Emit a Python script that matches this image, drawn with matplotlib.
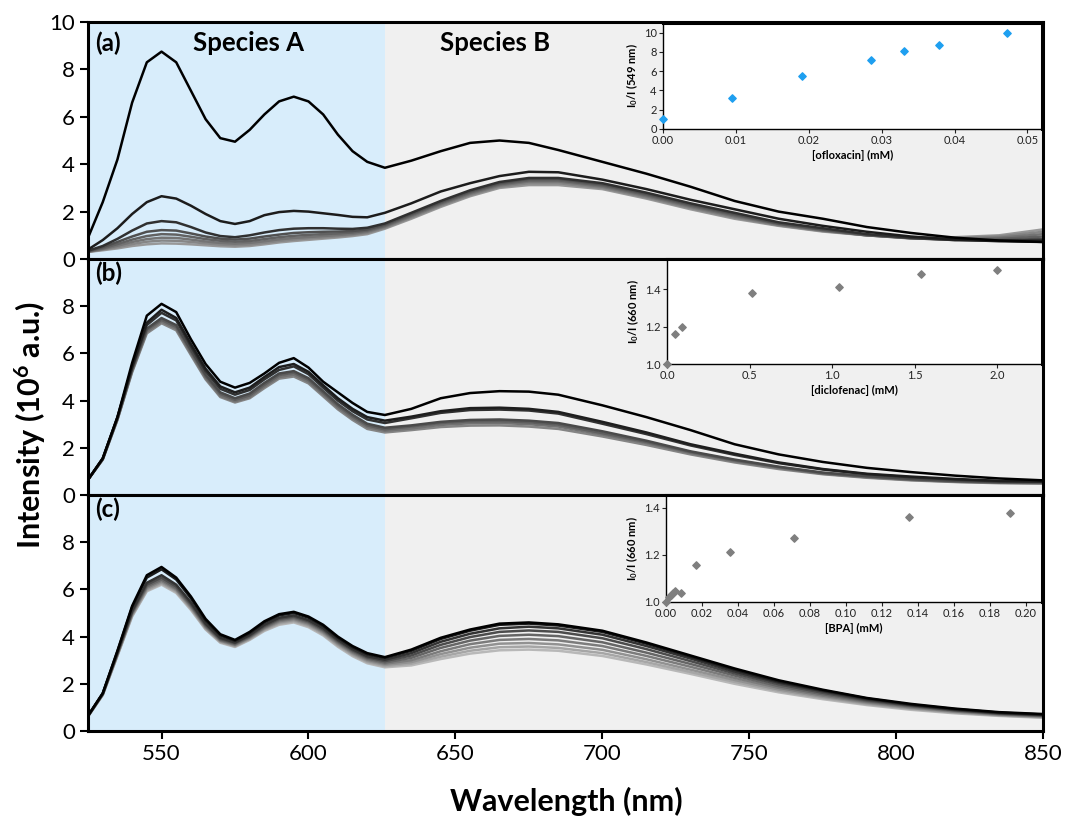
# Quenching spectra, three panels with Stern-Volmer insets
import numpy as np
import matplotlib.pyplot as plt

plt.rcParams['font.family'] = ['Lato', 'DejaVu Sans']
plt.rcParams['mathtext.default'] = 'regular'

# wavelength grid (nm) that the curves were read at
wl = [525, 530, 535, 540, 545, 550, 555, 560, 565, 570, 575, 580, 585, 590, 595,
      600, 605, 610, 615, 620, 626, 635, 645, 655, 665, 675, 685, 700, 715, 730,
      745, 760, 775, 790, 805, 820, 835, 850]

# panel (a): ofloxacin titration, intensity in 10^6 a.u.
a1 = [0.9, 2.4, 4.2, 6.6, 8.3, 8.75, 8.3, 7.1, 5.9, 5.1, 4.95, 5.45, 6.1, 6.65, 6.85,
      6.65, 6.1, 5.25, 4.55, 4.1, 3.85, 4.15, 4.55, 4.9, 5.0, 4.9, 4.6, 4.1, 3.6, 3.05,
      2.45, 2.0, 1.7, 1.35, 1.1, 0.9, 0.78, 0.72]
a2 = [0.4, 0.8, 1.3, 1.9, 2.4, 2.65, 2.55, 2.25, 1.9, 1.6, 1.48, 1.6, 1.85, 1.98, 2.03,
      2.0, 1.93, 1.86, 1.78, 1.76, 1.95, 2.35, 2.85, 3.2, 3.5, 3.68, 3.66, 3.35, 2.95, 2.5,
      2.1, 1.7, 1.4, 1.15, 0.95, 0.82, 0.75, 0.72]
a3 = [0.35, 0.55, 0.85, 1.2, 1.5, 1.6, 1.55, 1.35, 1.12, 0.97, 0.92, 1.0, 1.12, 1.22, 1.28,
      1.3, 1.3, 1.28, 1.27, 1.32, 1.5, 1.95, 2.45, 2.9, 3.25, 3.42, 3.42, 3.2, 2.8, 2.35,
      1.95, 1.55, 1.3, 1.05, 0.9, 0.8, 0.78, 0.8]
a4 = [0.33, 0.5, 0.72, 0.95, 1.15, 1.22, 1.2, 1.08, 0.95, 0.86, 0.82, 0.86, 0.95, 1.03, 1.1,
      1.13, 1.15, 1.16, 1.18, 1.25, 1.45, 1.9, 2.4, 2.85, 3.2, 3.38, 3.38, 3.15, 2.75, 2.3,
      1.9, 1.5, 1.25, 1.02, 0.88, 0.8, 0.8, 0.85]
a5 = [0.32, 0.45, 0.63, 0.82, 0.97, 1.05, 1.03, 0.94, 0.84, 0.77, 0.73, 0.76, 0.84, 0.92, 0.98,
      1.02, 1.05, 1.08, 1.12, 1.2, 1.4, 1.85, 2.35, 2.8, 3.15, 3.32, 3.32, 3.1, 2.7, 2.25,
      1.85, 1.48, 1.22, 1.0, 0.87, 0.82, 0.85, 0.95]
a6 = [0.31, 0.42, 0.56, 0.72, 0.84, 0.9, 0.89, 0.82, 0.74, 0.68, 0.65, 0.68, 0.75, 0.83, 0.89,
      0.93, 0.97, 1.01, 1.06, 1.15, 1.36, 1.8, 2.3, 2.75, 3.1, 3.27, 3.27, 3.05, 2.65, 2.2,
      1.8, 1.45, 1.2, 1.0, 0.88, 0.85, 0.9, 1.05]
a7 = [0.3, 0.4, 0.5, 0.63, 0.73, 0.78, 0.77, 0.72, 0.66, 0.61, 0.58, 0.61, 0.68, 0.76, 0.82,
      0.87, 0.91, 0.96, 1.02, 1.1, 1.32, 1.75, 2.25, 2.7, 3.05, 3.2, 3.2, 3.0, 2.6, 2.15,
      1.75, 1.42, 1.18, 1.0, 0.9, 0.88, 0.95, 1.15]
a8 = [0.3, 0.37, 0.45, 0.55, 0.62, 0.66, 0.65, 0.62, 0.58, 0.54, 0.52, 0.55, 0.62, 0.7, 0.76,
      0.81, 0.86, 0.91, 0.97, 1.05, 1.28, 1.7, 2.2, 2.65, 3.0, 3.12, 3.12, 2.95, 2.55, 2.1,
      1.7, 1.4, 1.16, 1.0, 0.92, 0.92, 1.0, 1.25]

# panel (b): diclofenac titration
b1 = [0.65, 1.55, 3.3, 5.6, 7.6, 8.1, 7.75, 6.6, 5.55, 4.8, 4.55, 4.75, 5.15, 5.6, 5.8,
      5.4, 4.8, 4.35, 3.9, 3.52, 3.39, 3.65, 4.1, 4.32, 4.4, 4.38, 4.25, 3.8, 3.3, 2.75,
      2.15, 1.72, 1.4, 1.15, 0.97, 0.82, 0.7, 0.62]
b2 = [0.65, 1.55, 3.3, 5.45, 7.3, 7.85, 7.5, 6.4, 5.35, 4.6, 4.35, 4.55, 5.0, 5.42, 5.55,
      5.22, 4.65, 4.1, 3.65, 3.3, 3.15, 3.32, 3.55, 3.68, 3.7, 3.65, 3.52, 3.1, 2.65, 2.15,
      1.75, 1.38, 1.1, 0.9, 0.78, 0.68, 0.6, 0.58]
b3 = [0.65, 1.55, 3.28, 5.4, 7.2, 7.72, 7.4, 6.3, 5.25, 4.5, 4.25, 4.45, 4.9, 5.3, 5.45,
      5.12, 4.55, 4.0, 3.55, 3.2, 3.05, 3.25, 3.48, 3.6, 3.62, 3.58, 3.45, 3.02, 2.58, 2.1,
      1.7, 1.35, 1.08, 0.88, 0.75, 0.65, 0.58, 0.56]
b4 = [0.65, 1.52, 3.25, 5.35, 7.05, 7.5, 7.2, 6.15, 5.1, 4.35, 4.1, 4.3, 4.75, 5.15, 5.25,
      4.95, 4.4, 3.85, 3.4, 3.02, 2.85, 2.95, 3.1, 3.18, 3.2, 3.15, 3.05, 2.7, 2.3, 1.85,
      1.5, 1.2, 0.95, 0.8, 0.68, 0.6, 0.55, 0.54]
b5 = [0.65, 1.52, 3.22, 5.3, 7.0, 7.42, 7.12, 6.08, 5.03, 4.28, 4.03, 4.22, 4.67, 5.08, 5.18,
      4.88, 4.33, 3.78, 3.33, 2.95, 2.78, 2.9, 3.05, 3.12, 3.13, 3.08, 2.98, 2.62, 2.25, 1.82,
      1.47, 1.18, 0.93, 0.78, 0.66, 0.58, 0.53, 0.52]
b6 = [0.65, 1.5, 3.2, 5.25, 6.92, 7.35, 7.05, 6.0, 4.96, 4.2, 3.97, 4.15, 4.6, 5.0, 5.1,
      4.8, 4.25, 3.7, 3.25, 2.88, 2.72, 2.82, 2.97, 3.04, 3.05, 3.0, 2.9, 2.56, 2.2, 1.78,
      1.43, 1.15, 0.9, 0.75, 0.64, 0.56, 0.52, 0.5]
b7 = [0.65, 1.5, 3.18, 5.2, 6.85, 7.28, 6.98, 5.93, 4.9, 4.15, 3.92, 4.1, 4.53, 4.93, 5.02,
      4.73, 4.18, 3.63, 3.18, 2.8, 2.65, 2.75, 2.88, 2.94, 2.95, 2.9, 2.8, 2.48, 2.12, 1.72,
      1.38, 1.1, 0.88, 0.73, 0.62, 0.55, 0.5, 0.48]

# panel (c): BPA titration
c1 = [0.65, 1.6, 3.4, 5.3, 6.6, 6.95, 6.5, 5.7, 4.75, 4.1, 3.86, 4.2, 4.65, 4.95, 5.05,
      4.85, 4.5, 4.0, 3.6, 3.3, 3.13, 3.45, 3.95, 4.3, 4.55, 4.6, 4.52, 4.25, 3.75, 3.2,
      2.65, 2.15, 1.75, 1.4, 1.15, 0.95, 0.8, 0.72]
c2 = [0.65, 1.6, 3.38, 5.25, 6.5, 6.85, 6.42, 5.62, 4.68, 4.05, 3.82, 4.15, 4.6, 4.9, 5.0,
      4.8, 4.45, 3.95, 3.55, 3.25, 3.1, 3.4, 3.9, 4.25, 4.5, 4.55, 4.47, 4.2, 3.7, 3.15,
      2.6, 2.1, 1.72, 1.38, 1.12, 0.93, 0.78, 0.7]
c3 = [0.64, 1.58, 3.32, 5.1, 6.28, 6.6, 6.2, 5.45, 4.55, 3.95, 3.75, 4.07, 4.5, 4.8, 4.9,
      4.7, 4.36, 3.87, 3.47, 3.17, 3.02, 3.3, 3.78, 4.12, 4.35, 4.42, 4.35, 4.08, 3.6, 3.07,
      2.52, 2.05, 1.68, 1.34, 1.1, 0.9, 0.76, 0.68]
c4 = [0.64, 1.57, 3.3, 5.05, 6.2, 6.5, 6.12, 5.38, 4.5, 3.9, 3.72, 4.03, 4.45, 4.75, 4.85,
      4.65, 4.3, 3.82, 3.42, 3.12, 2.96, 3.2, 3.65, 3.98, 4.2, 4.26, 4.2, 3.93, 3.47, 2.96,
      2.44, 1.98, 1.62, 1.3, 1.07, 0.88, 0.74, 0.66]
c5 = [0.63, 1.56, 3.28, 5.0, 6.13, 6.42, 6.05, 5.32, 4.45, 3.86, 3.68, 3.99, 4.4, 4.7, 4.8,
      4.6, 4.25, 3.77, 3.37, 3.07, 2.9, 3.1, 3.52, 3.83, 4.03, 4.08, 4.02, 3.76, 3.32, 2.84,
      2.35, 1.9, 1.56, 1.26, 1.04, 0.86, 0.72, 0.64]
c6 = [0.63, 1.55, 3.25, 4.96, 6.07, 6.36, 6.0, 5.27, 4.41, 3.83, 3.65, 3.96, 4.36, 4.65, 4.75,
      4.55, 4.2, 3.72, 3.32, 3.02, 2.85, 3.0, 3.38, 3.68, 3.86, 3.9, 3.84, 3.6, 3.18, 2.72,
      2.25, 1.83, 1.5, 1.22, 1.0, 0.83, 0.7, 0.62]
c7 = [0.62, 1.54, 3.22, 4.92, 6.01, 6.3, 5.95, 5.22, 4.37, 3.8, 3.62, 3.92, 4.32, 4.6, 4.7,
      4.5, 4.15, 3.67, 3.27, 2.97, 2.8, 2.92, 3.26, 3.53, 3.7, 3.73, 3.67, 3.44, 3.04, 2.6,
      2.16, 1.76, 1.45, 1.18, 0.97, 0.81, 0.68, 0.6]
c8 = [0.62, 1.53, 3.2, 4.88, 5.96, 6.25, 5.9, 5.18, 4.33, 3.77, 3.59, 3.89, 4.28, 4.55, 4.65,
      4.45, 4.1, 3.62, 3.22, 2.92, 2.75, 2.85, 3.15, 3.4, 3.55, 3.58, 3.52, 3.3, 2.92, 2.5,
      2.08, 1.7, 1.4, 1.14, 0.94, 0.78, 0.66, 0.58]
c9 = [0.62, 1.52, 3.18, 4.85, 5.92, 6.2, 5.85, 5.13, 4.3, 3.74, 3.56, 3.86, 4.24, 4.5, 4.6,
      4.4, 4.05, 3.57, 3.17, 2.87, 2.7, 2.78, 3.05, 3.28, 3.42, 3.45, 3.4, 3.18, 2.82, 2.42,
      2.0, 1.64, 1.35, 1.1, 0.9, 0.75, 0.64, 0.56]

# inset data (Stern-Volmer plots)
oflox_mM = [0.0, 0.0095, 0.019, 0.0285, 0.0331, 0.0378, 0.0472]
oflox_ratio = [1.0, 3.25, 5.45, 7.2, 8.1, 8.75, 10.0]
diclo_mM = [0.0, 0.046, 0.09, 0.515, 1.04, 1.54, 2.0]
diclo_ratio = [1.0, 1.16, 1.2, 1.38, 1.41, 1.48, 1.5]
bpa_mM = [0.0, 0.0017, 0.0028, 0.0039, 0.0052, 0.0085, 0.0167, 0.0357, 0.0709, 0.135, 0.191]
bpa_ratio = [1.0, 1.02, 1.03, 1.04, 1.045, 1.04, 1.159, 1.213, 1.271, 1.362, 1.379]

BLUE_BG = '#d8edfb'
GREY_BG = '#f0f0f0'
SPLIT = 626

fig = plt.figure(figsize=(10.66, 8.21), dpi=100)

panels = [
    ([a1, a2, a3, a4, a5, a6, a7, a8],
     ['#000000', '#1c1c1c', '#303030', '#505050', '#626262', '#747474', '#868686', '#989898'],
     [0.0, 0.6845, 0.896, 0.2887], [0, 2, 4, 6, 8, 10], '(a)', 0.91),
    ([b1, b2, b3, b4, b5, b6, b7],
     ['#000000', '#1e1e1e', '#303030', '#4a4a4a', '#5e5e5e', '#727272', '#858585'],
     [0.0, 0.3971, 0.896, 0.2874], [0, 2, 4, 6, 8], '(b)', 0.94),
    ([c1, c2, c3, c4, c5, c6, c7, c8, c9],
     ['#000000', '#1a1a1a', '#333333', '#4c4c4c', '#666666', '#7c7c7c', '#929292', '#a6a6a6', '#b8b8b8'],
     [0.0, 0.1096, 0.896, 0.2875], [0, 2, 4, 6, 8], '(c)', 0.94),
]

main_axes = []
for curves, cols, pos, yt, lab, laby in panels:
    ax = fig.add_axes([0.0826, pos[1], pos[2], pos[3]])
    ax.axvspan(525, SPLIT, color=BLUE_BG, lw=0, zorder=0)
    ax.axvspan(SPLIT, 850, color=GREY_BG, lw=0, zorder=0)
    # lightest first so the darkest spectrum sits on top
    for y, c in reversed(list(zip(curves, cols))):
        ax.plot(wl, y, color=c, lw=1.8, zorder=2)
    ax.set_xlim(525, 850)
    ax.set_ylim(0, 10)
    ax.set_yticks(yt)
    ax.tick_params(axis='y', direction='out', length=6, width=1.5, labelsize=16)
    ax.tick_params(axis='x', direction='out', length=6, width=1.5, labelsize=16)
    for s in ax.spines.values():
        s.set_linewidth(2.2)
    ax.text(0.007, laby, lab, transform=ax.transAxes, fontsize=17.5,
            fontweight='bold', va='center', ha='left')
    main_axes.append(ax)

main_axes[0].set_xticks([])
main_axes[1].set_xticks([])
main_axes[2].set_xticks([550, 600, 650, 700, 750, 800, 850])

main_axes[0].text(579.5, 9.1, 'Species A', fontsize=18.5, fontweight='bold', ha='center', va='center')
main_axes[0].text(663.5, 9.1, 'Species B', fontsize=18.5, fontweight='bold', ha='center', va='center')

fig.text(0.531, 0.024, 'Wavelength (nm)', fontsize=22, fontweight='bold', ha='center', va='center')
fig.text(0.028, 0.483, 'Intensity (10$^6$ a.u.)', fontsize=22, fontweight='bold',
         ha='center', va='center', rotation=90)

# insets
insets = [
    (oflox_mM, oflox_ratio, '#1e9ff0', [0.622, 0.8429, 0.3555, 0.1291],
     (0, 0.052), (0, 11), [0, 0.01, 0.02, 0.03, 0.04, 0.05], [0, 2, 4, 6, 8, 10],
     '%.2f', '%d', '[ofloxacin] (mM)', 'I$_0$/I (549 nm)'),
    (diclo_mM, diclo_ratio, '#7f7f7f', [0.6257, 0.5566, 0.3518, 0.1279],
     (0, 2.27), (1.0, 1.56), [0, 0.5, 1.0, 1.5, 2.0], [1.0, 1.2, 1.4],
     '%.1f', '%.1f', '[diclofenac] (mM)', 'I$_0$/I (660 nm)'),
    (bpa_mM, bpa_ratio, '#7f7f7f', [0.6248, 0.2668, 0.3527, 0.1303],
     (0, 0.209), (1.0, 1.455), [0, 0.02, 0.04, 0.06, 0.08, 0.10, 0.12, 0.14, 0.16, 0.18, 0.20],
     [1.0, 1.2, 1.4], '%.2f', '%.1f', '[BPA] (mM)', 'I$_0$/I (660 nm)'),
]

for xs, ys, col, pos, xl, yl, xt, yt, xf, yf, xlab, ylab in insets:
    ins = fig.add_axes(pos)
    ins.set_facecolor('white')
    ins.scatter(xs, ys, marker='D', s=14, color=col, zorder=3, clip_on=False)
    ins.set_xlim(*xl)
    ins.set_ylim(*yl)
    ins.set_xticks(xt)
    ins.set_yticks(yt)
    ins.xaxis.set_major_formatter(plt.FormatStrFormatter(xf))
    ins.yaxis.set_major_formatter(plt.FormatStrFormatter(yf))
    ins.tick_params(length=3, width=0.8, labelsize=8, pad=1.5, colors='#222222')
    ins.spines['left'].set_linewidth(1.0)
    ins.spines['bottom'].set_linewidth(1.0)
    ins.spines['top'].set_linewidth(2.2)
    ins.spines['right'].set_linewidth(2.2)
    ins.set_xlabel(xlab, fontsize=8, fontweight='bold', labelpad=3)
    ins.set_ylabel(ylab, fontsize=8, fontweight='bold', labelpad=3)

fig.savefig('out.png', dpi=100)
